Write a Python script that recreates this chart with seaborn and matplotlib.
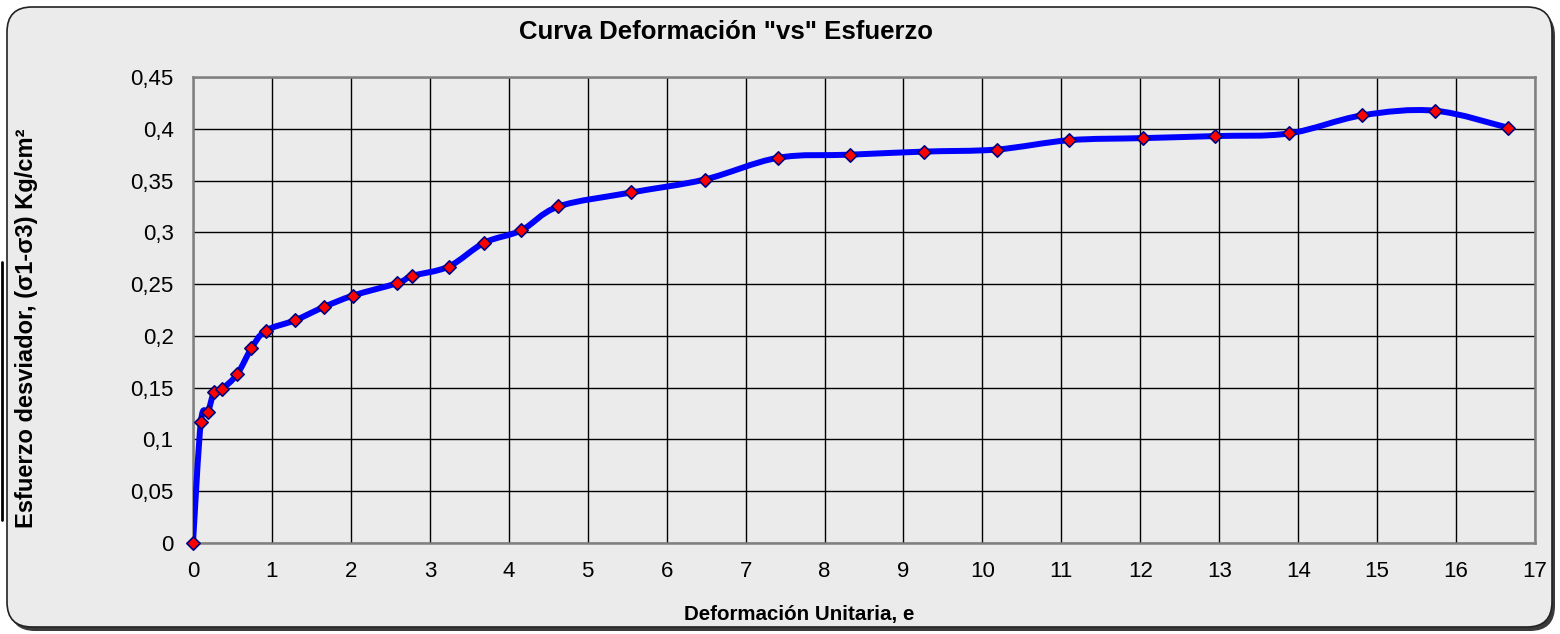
import numpy as np
import matplotlib
matplotlib.use("Agg")
import matplotlib.pyplot as plt
import seaborn as sns
from matplotlib.path import Path
from matplotlib.patches import PathPatch, FancyBboxPatch
from matplotlib.lines import Line2D
from matplotlib.ticker import FuncFormatter

# =========================
# DATA
# =========================

deformacion = [0.0, 0.10, 0.19, 0.27, 0.37, 0.56, 0.74, 0.92, 1.29, 1.66,
               2.03, 2.59, 2.78, 3.24, 3.69, 4.16, 4.63, 5.55, 6.48, 7.41,
               8.32, 9.26, 10.18, 11.10, 12.03, 12.95, 13.88, 14.81, 15.73, 16.66]

esfuerzo = [0.0, 0.117, 0.127, 0.146, 0.149, 0.163, 0.188, 0.205, 0.215, 0.228,
            0.239, 0.251, 0.258, 0.267, 0.290, 0.302, 0.325, 0.3385, 0.351, 0.372,
            0.375, 0.378, 0.380, 0.389, 0.391, 0.393, 0.3955, 0.413, 0.4175, 0.401]

x_ticks = list(range(0, 18))
y_ticks = [0, 0.05, 0.1, 0.15, 0.2, 0.25, 0.3, 0.35, 0.4, 0.45]

titulo = 'Curva Deformación "vs" Esfuerzo'
etiqueta_x = "Deformación Unitaria, e"
etiqueta_y = "Esfuerzo desviador, (σ1-σ3) Kg/cm²"

# =========================
# STYLE
# =========================

sns.set_style("white")
plt.rcParams["font.family"] = ["Liberation Sans", "DejaVu Sans"]
plt.rcParams["text.color"] = "black"
plt.rcParams["axes.labelcolor"] = "black"

fig = plt.figure(figsize=(15.6, 6.34), dpi=100, facecolor="white")

# rounded chart area with shadow (Excel look)
shadow = FancyBboxPatch((0.10, 0.03), 15.45, 6.2,
                        boxstyle="round,pad=0,rounding_size=0.25",
                        transform=fig.dpi_scale_trans, facecolor="#3a3a3a",
                        edgecolor="none", zorder=-3)
box = FancyBboxPatch((0.07, 0.07), 15.45, 6.2,
                     boxstyle="round,pad=0,rounding_size=0.25",
                     transform=fig.dpi_scale_trans, facecolor="#ebebeb",
                     edgecolor="#222222", linewidth=1.2, zorder=-2)
fig.add_artist(shadow)
fig.add_artist(box)
fig.add_artist(Line2D([0.0015, 0.0015], [1 - 262 / 634, 1 - 520 / 634],
                      transform=fig.transFigure, color="black", linewidth=2))

ax = fig.add_axes([0.1237, 0.1435, 0.8603, 0.735])
ax.set_facecolor("none")

# =========================
# SMOOTHED LINE (Excel style bezier through the points)
# =========================

pts = np.column_stack([deformacion, esfuerzo])
n = len(pts)
verts = [pts[0]]
codes = [Path.MOVETO]
for i in range(n - 1):
    p0 = pts[max(i - 1, 0)]
    p1 = pts[i]
    p2 = pts[i + 1]
    p3 = pts[min(i + 2, n - 1)]
    verts += [p1 + (p2 - p0) / 6, p2 - (p3 - p1) / 6, p2]
    codes += [Path.CURVE4] * 3

curve = PathPatch(Path(verts, codes), facecolor="none", edgecolor="#0000ff",
                  linewidth=4.3, capstyle="round", joinstyle="round", zorder=3)
ax.add_patch(curve)

sns.scatterplot(x=deformacion, y=esfuerzo, marker="D", s=46, color="#ff0000",
                edgecolor="#000080", linewidth=1.2, zorder=4, ax=ax, clip_on=False)

# =========================
# AXES
# =========================

ax.set_xlim(0, 17)
ax.set_ylim(0, 0.45)
ax.set_xticks(x_ticks)
ax.set_yticks(y_ticks)
ax.yaxis.set_major_formatter(FuncFormatter(lambda v, p: f"{v:g}".replace(".", ",")))

ax.grid(True, color="black", linewidth=1.0)
ax.set_axisbelow(True)
for s in ax.spines.values():
    s.set_color("#808080")
    s.set_linewidth(1.8)

ax.tick_params(axis="both", direction="out", length=6, width=1.5, color="#808080",
               labelsize=16, labelcolor="black", pad=7)
ax.tick_params(axis="y", length=4, pad=10)

ax.set_xlabel("")
ax.set_ylabel("")
fig.text(0.512, 0.031, etiqueta_x, ha="center", va="center",
         fontsize=14.8, fontweight="bold")
fig.text(0.0167, 0.4826, etiqueta_y, ha="center", va="center", rotation=90,
         fontsize=17, fontweight="bold")

fig.text(0.4657, 0.9495, titulo, ha="center", va="center",
         fontsize=18.5, fontweight="bold")

plt.savefig("out.png", dpi=100, facecolor="white")
